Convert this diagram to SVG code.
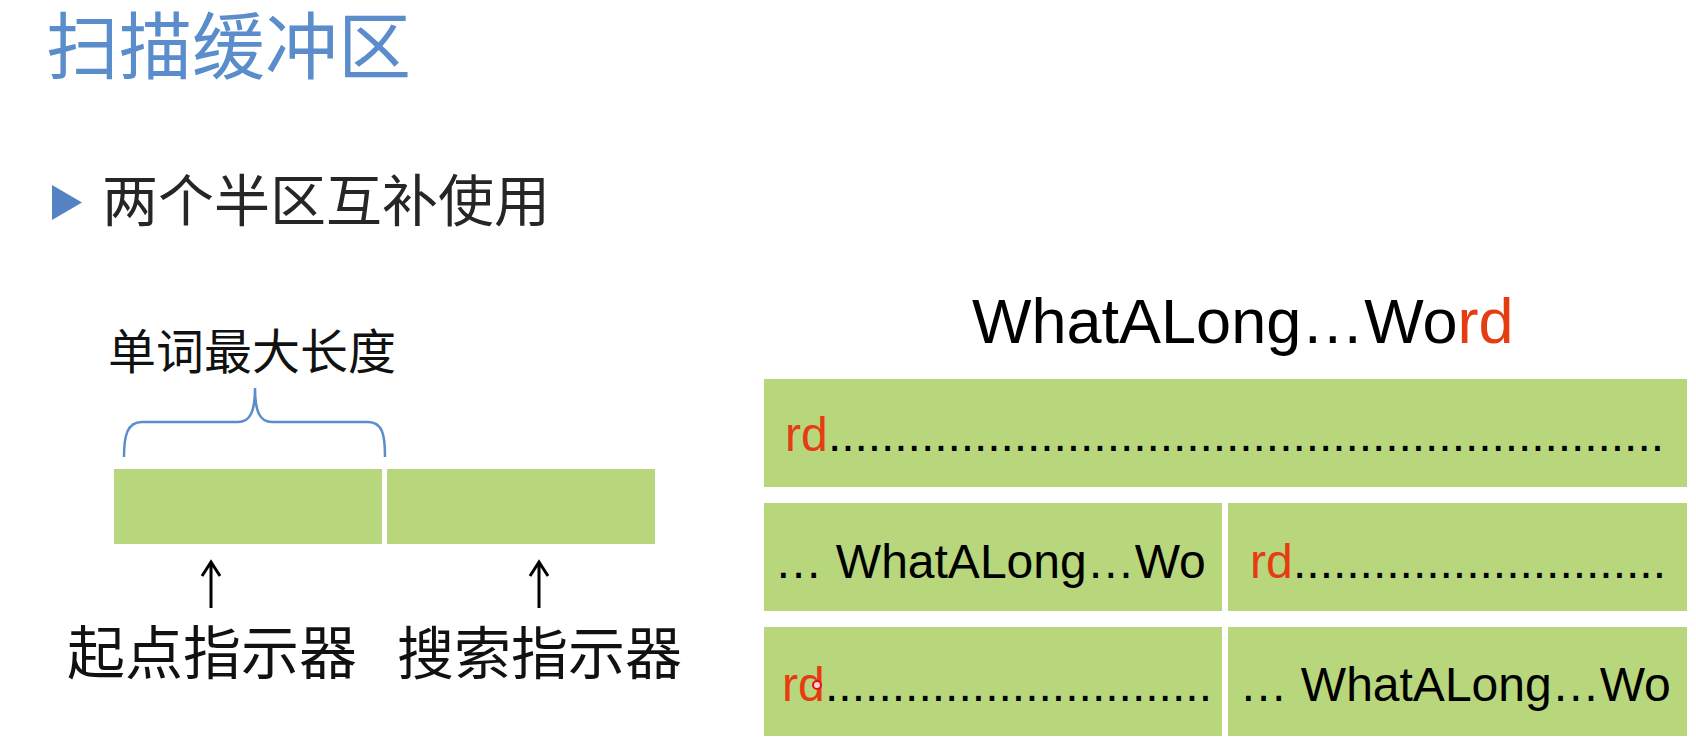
<svg xmlns="http://www.w3.org/2000/svg" width="1696" height="747" viewBox="0 0 1696 747">
  <style>
    .cjk { font-family: "Noto Sans CJK SC", "Noto Sans", sans-serif; }
    .lat { font-family: "Liberation Sans", Arial, sans-serif; fill: #000; }
    .red { fill: #E63C14; }
    .cell { fill: #B8D67B; }
    .brace { fill: none; stroke: #5B8CCB; stroke-width: 2.5; }
    .arrow { fill: none; stroke: #000; stroke-width: 3; }
  </style>
  <rect x="0" y="0" width="1696" height="747" fill="#FFFFFF"/>

  <g id="title">
    <text class="cjk" x="46" y="73" font-size="73" fill="#5B8CCB">扫描缓冲区</text>
  </g>

  <g id="bullet">
    <polygon points="52,185 82,202.5 52,220" fill="#5582C3"/>
    <text class="cjk" x="102" y="221" font-size="56" fill="#262626">两个半区互补使用</text>
  </g>

  <g id="max-length-label">
    <text class="cjk" x="108" y="369" font-size="48" fill="#111">单词最大长度</text>
    <path class="brace" d="M124,457 C124,436 127,422 142,422 L238,422 C250,422 255,412 255,388 C255,412 260,422 272,422 L368,422 C383,422 385,436 385,457"/>
  </g>

  <g id="half-buffer-left">
    <rect class="cell" x="114" y="469" width="268" height="75"/>
  </g>
  <g id="half-buffer-right">
    <rect class="cell" x="387" y="469" width="268" height="75"/>
  </g>

  <g id="connectors">
    <path class="arrow" d="M211,608 L211,563 M202,576 L211,562 L220,576"/>
    <path class="arrow" d="M539,608 L539,563 M530,576 L539,562 L548,576"/>
  </g>

  <g id="start-pointer">
    <text class="cjk" x="67" y="674" font-size="58" fill="#111">起点指示器</text>
  </g>
  <g id="search-pointer">
    <text class="cjk" x="397" y="674" font-size="57" fill="#111">搜索指示器</text>
  </g>

  <g id="word">
    <text class="lat" x="972" y="343" font-size="63">WhatALong…Wo<tspan class="red">rd</tspan></text>
  </g>

  <g id="row1">
    <rect class="cell" x="764" y="379" width="923" height="108"/>
    <text class="lat red" x="785" y="451" font-size="48">rd</text>
    <text class="lat" x="828" y="451" font-size="48" textLength="836" lengthAdjust="spacing">...............................................................</text>
  </g>

  <g id="row2-left">
    <rect class="cell" x="764" y="503" width="458" height="108"/>
    <text class="lat" x="774.5" y="578" font-size="48">… WhatALong…Wo</text>
  </g>
  <g id="row2-right">
    <rect class="cell" x="1228" y="503" width="459" height="108"/>
    <text class="lat red" x="1250" y="578" font-size="48">rd</text>
    <text class="lat" x="1293" y="578" font-size="48" textLength="373" lengthAdjust="spacing">............................</text>
  </g>

  <g id="row3-left">
    <rect class="cell" x="764" y="627" width="458" height="109"/>
    <text class="lat red" x="782" y="701" font-size="48">rd</text>
    <text class="lat" x="825" y="701" font-size="48" textLength="387" lengthAdjust="spacing">.............................</text>
    <circle cx="817" cy="685" r="4" fill="#FBD3D3" stroke="#E0101A" stroke-width="2"/>
  </g>
  <g id="row3-right">
    <rect class="cell" x="1228" y="627" width="459" height="109"/>
    <text class="lat" x="1239.5" y="701" font-size="48">… WhatALong…Wo</text>
  </g>
</svg>
